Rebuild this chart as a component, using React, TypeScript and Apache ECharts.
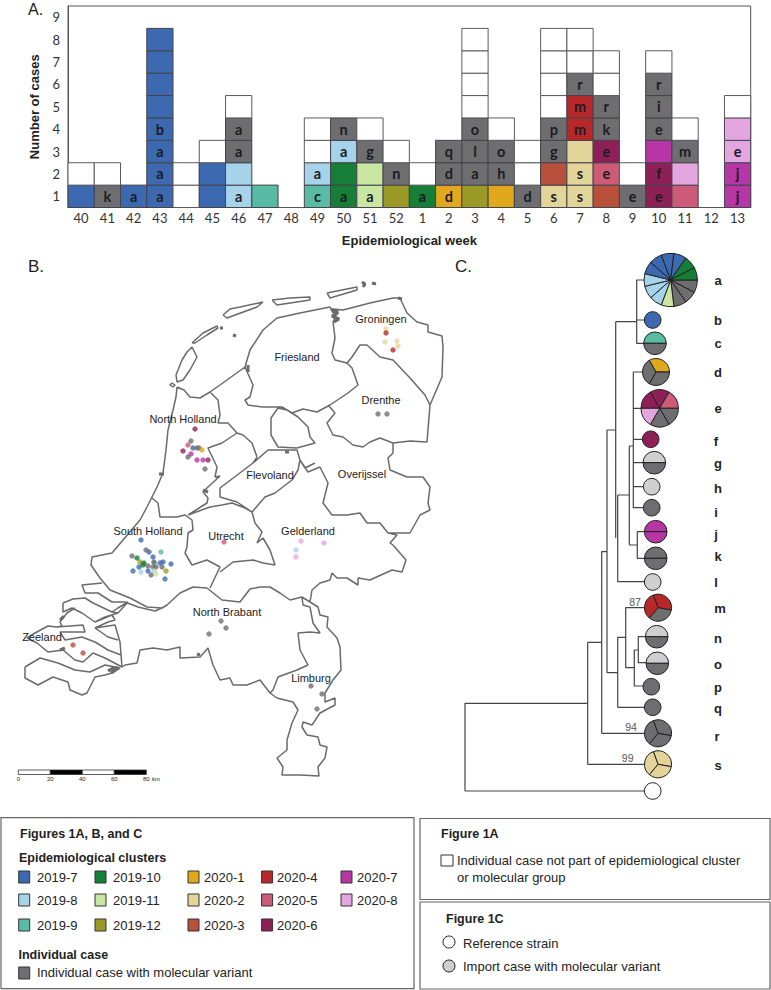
import React, { useEffect, useRef } from "react";
import * as echarts from "echarts";

// ---------- colours ----------
const clusterColors: Record<string, string> = {
  "2019-7": "#3C69B0", "2019-8": "#A6D2EA", "2019-9": "#5ABBA5", "2019-10": "#157F37",
  "2019-11": "#C9E7A3", "2019-12": "#9C9A26", "2020-1": "#E2A81C", "2020-2": "#E3D59A",
  "2020-3": "#B9503C", "2020-4": "#B8282B", "2020-5": "#CC5B77", "2020-6": "#8E2058",
  "2020-7": "#B636A6", "2020-8": "#E4A6E0",
  G: "#6E6E70", L: "#CFCFCF", W: "#FFFFFF",
};

// ---------- panel A ----------
const weeks = ["40","41","42","43","44","45","46","47","48","49","50","51","52","1","2","3","4","5","6","7","8","9","10","11","12","13"];
const caseLevels = ["1","2","3","4","5","6","7","8","9"];
const W: [string, string] = ["W", ""];
const weekCases: [string, string][][] = [
  [["2019-7",""],W],
  [["G","k"],W],
  [["2019-7","a"]],
  [["2019-7","a"],["2019-7","a"],["2019-7","a"],["2019-7","b"],["2019-7",""],["2019-7",""],["2019-7",""],["2019-7",""]],
  [W,W],
  [["2019-7",""],["2019-7",""],W],
  [["2019-8","a"],["2019-8",""],["G","a"],["G","a"],W],
  [["2019-9",""]],
  [],
  [["2019-9","c"],["2019-8","a"],W,W],
  [["2019-10","a"],["2019-10",""],["2019-8","a"],["G","n"]],
  [["2019-11","a"],["2019-11",""],["G","g"],W],
  [["2019-12",""],["G","n"],W],
  [["2019-10","a"],W],
  [["2020-1","d"],["G","d"],["G","q"]],
  [["2019-12",""],["G","a"],["G","l"],["G","o"],W,W,W,W],
  [["2020-1",""],["G","h"],["G","o"],W],
  [["G","d"],W,W],
  [["2020-2","s"],["2020-3",""],["G","g"],["G","p"],W,W,W,W],
  [["2020-2","s"],["2020-2","s"],["2020-2",""],["2020-4","m"],["2020-4","m"],["G","r"],W,W],
  [["2020-3",""],["2020-5","e"],["2020-6","e"],["G","k"],["G","r"],W,W],
  [["G","e"],W],
  [["2020-6","e"],["2020-6","f"],["2020-7",""],["G","e"],["G","i"],["G","r"],W],
  [["2020-5",""],["2020-8",""],["G","m"],W],
  [],
  [["2020-7","j"],["2020-7","j"],["2020-8","e"],["2020-8",""],W],
];

// ---------- panel B: outlines ----------
type P = number[][];
const islands: P[] = [
  [[192,347],[197,357],[190,370],[183,380],[177,382],[176,375],[182,360],[187,352],[192,347]],
  [[172,383],[175,385],[173,387],[170,385],[172,383]],
  [[192,343],[203,333],[217,326],[218,328],[207,335],[195,343],[192,343]],
  [[223,315],[230,309],[240,307],[263,302],[257,307],[227,318],[223,315]],
  [[272,300],[290,298],[310,297],[310,300],[277,305],[272,300]],
  [[327,293],[357,287],[357,290],[330,298],[327,293]],
];
const friesland: P = [[210,392],[220,385],[245,367],[250,350],[263,330],[277,318],[300,313],[330,307],[333,313],[338,310],[333,322],[335,338],[332,353],[335,360],[347,363],[352,368],[358,385],[348,393],[330,405],[317,412],[303,409],[292,413],[282,407],[262,407],[248,405],[245,400],[250,397],[253,385],[245,367]];
const groningen: P = [[333,309],[343,310],[370,303],[393,298],[400,298],[407,313],[417,322],[428,325],[428,332],[442,336],[443,347],[442,377],[430,405]];
const groningenSouth: P = [[347,363],[352,357],[360,345],[367,345],[380,357],[393,360],[410,378],[425,395],[430,405]];
const drenthe: P = [[430,405],[427,442],[410,441],[393,443],[380,438],[370,442],[363,447],[353,445],[343,437],[333,435],[327,423],[335,413],[328,405]];
const overijssel: P = [[393,443],[393,453],[388,458],[390,470],[407,477],[423,477],[430,487],[428,503],[430,510],[420,515],[410,533],[388,533],[380,523],[367,523],[360,513],[347,515],[332,515],[323,503],[328,483],[320,467],[308,472],[300,460]];
const polder: P = [[278,408],[271,418],[271,435],[278,447],[297,448],[315,443],[310,437],[308,427],[298,417],[287,410],[278,408]];
const flevoland: P = [[253,463],[268,450],[278,450],[297,450],[300,460],[298,470],[292,480],[275,493],[265,497],[252,512],[237,502],[220,497],[220,488],[253,463]];
const flevoShore: P = [[257,457],[253,463]];
const northHollandEast: P = [[210,392],[218,400],[220,415],[218,423],[228,423],[237,433],[243,435],[252,443],[257,457]];
const markermeer: P = [[237,433],[222,443],[208,448],[217,467],[215,477],[220,476],[208,487],[203,492],[208,498],[207,503],[188,515]];
const westCoast: P = [[177,387],[176,397],[173,410],[168,430],[166,450],[163,473],[157,487],[147,507],[140,520],[112,553],[92,557],[91,565],[100,578],[110,590],[130,598],[147,607],[162,608],[167,605],[180,593],[193,587],[207,588],[222,600],[240,602],[250,589],[260,587],[270,587],[280,593],[290,600],[302,597]];
const helder: P = [[177,387],[184,390],[190,397],[200,398],[210,392]];
const hollandBorder: P = [[152,498],[158,503],[160,517],[177,517],[185,515],[192,520],[193,530],[188,533],[187,547],[185,553],[192,565],[207,560],[220,567],[210,588]];
const utrecht: P = [[188,515],[210,507],[222,505],[232,503],[245,508],[252,512],[255,523],[262,532],[257,543],[263,538],[270,550],[275,565],[263,563],[253,560],[233,562],[220,572]];
const gelderlandEast: P = [[302,597],[310,602],[312,590],[320,583],[330,580],[332,573],[337,578],[347,578],[358,585],[358,578],[370,580],[392,570],[402,572],[406,560],[393,545],[390,543],[397,535],[388,533]];
const gelderlandShore: P = [[300,460],[305,468],[315,463]];
const limburgWest: P = [[302,597],[303,605],[310,607],[313,623],[320,633],[310,632],[298,633],[300,650],[308,665],[297,670],[278,677],[273,690],[270,693]];
const limburgEast: P = [[310,602],[318,607],[320,615],[328,617],[327,627],[337,638],[340,647],[341,670],[333,680],[325,693],[325,702],[335,698],[335,705],[320,713],[312,725],[303,722],[302,727],[307,735],[318,737],[320,745],[327,747],[325,758],[318,767],[319,776],[300,775],[282,775],[283,767],[277,758],[287,750],[287,740],[292,723],[298,710],[293,702],[277,698],[270,693]];
const brabantSouth: P = [[270,693],[260,680],[247,685],[233,685],[230,678],[220,680],[213,665],[208,648],[200,657],[180,658],[180,647],[167,650],[153,648],[140,650],[137,663],[125,665],[122,667]];
const voorne: P = [[102,583],[82,585],[85,593],[98,593],[112,602],[125,602],[138,607],[155,611],[162,608]];
const goeree: P = [[63,603],[73,599],[85,598],[93,603],[112,612],[118,613],[105,617],[95,622],[82,613],[72,608],[63,612],[63,603]];
const schouwen: P = [[75,608],[67,613],[60,622],[62,626],[57,627],[48,626],[35,633],[27,638],[37,643],[48,652],[63,650],[75,660],[83,662],[93,653],[105,658],[122,667],[120,642],[115,625],[95,628],[108,637],[118,640]];
const noordBeveland: P = [[57,627],[83,625],[85,632],[60,632],[65,640],[82,637],[95,642],[108,650],[121,655]];
const tholen: P = [[95,622],[112,615],[115,620],[108,622],[95,628]];
const rhine: P = [[112,612],[118,608],[128,602],[118,613]];
const zeeuwsVlaanderen: P = [[25,667],[40,658],[58,663],[75,670],[90,672],[105,665],[120,668],[112,673],[105,675],[95,677],[87,693],[82,695],[70,690],[68,682],[53,677],[38,685],[25,678],[25,667]];
const mapOutlines: P[] = [...islands, friesland, groningen, groningenSouth, drenthe, overijssel, polder, flevoland, flevoShore, northHollandEast, markermeer, westCoast, helder, hollandBorder, utrecht, gelderlandEast, gelderlandShore, limburgWest, limburgEast, brabantSouth, voorne, goeree, schouwen, noordBeveland, tholen, rhine, zeeuwsVlaanderen];
// small dark tangles of coastline at this scale
const coastKnots: P[] = [
  [[331,309],[338,313],[332,316],[339,319],[334,322]],
  [[398,298],[402,299]],
  [[362,282],[365,284],[363,287]],
  [[372,283],[376,284]],
  [[220,328],[223,328]],
  [[233,335],[236,336]],
  [[248,365],[248,372]],
  [[159,474],[164,474]],
  [[203,490],[208,492]],
  [[285,452],[289,452]],
  [[60,620],[64,616]],
  [[60,650],[65,648]],
  [[108,671],[113,668],[118,668],[111,673]],
  [[197,654],[200,655]],
];

const provinceNames: [string, number, number][] = [
  ["Groningen",381,319],["Friesland",297,357],["Drenthe",381,400],["Flevoland",270,475],["Overijssel",362,474],
  ["North Holland",183,419],["South Holland",148,531],["Utrecht",226,536],["Gelderland",308,531],
  ["North Brabant",227,612],["Zeeland",42,637],["Limburg",311,678],
];
const caseDots: [number, number, string][] = [
  [386,329,"2020-2"],[386,333,"2020-4"],[385,342,"2020-2"],[397,341,"2020-2"],[398,346,"2020-2"],[393,350,"2020-4"],
  [378,414,"G"],[387,414,"G"],
  [195,429,"2020-6"],[191,441,"G"],[188,445,"2020-5"],[193,448,"2019-7"],[197,448,"G"],[199,448,"G"],[202,450,"2020-1"],[183,451,"2020-6"],[191,454,"2020-7"],[188,457,"G"],[197,460,"2020-7"],[203,460,"2020-7"],[208,460,"2020-6"],[205,469,"G"],
  [224,542,"2020-5"],
  [301,541,"2020-8"],[324,543,"2020-8"],[296,550,"2019-8"],[296,557,"2020-8"],
  [141,540,"2019-7"],[146,550,"G"],[149,552,"2019-7"],[161,552,"2019-9"],[132,556,"G"],[137,558,"2019-10"],[153,557,"2019-7"],[139,567,"2019-7"],[140,562,"2019-12"],[144,563,"2019-10"],[143,565,"2019-10"],[163,562,"2019-7"],[160,563,"2019-7"],[171,564,"2019-7"],[154,563,"2019-9"],[154,562,"G"],[148,566,"G"],[153,567,"G"],[156,567,"G"],[162,567,"G"],[133,571,"2019-7"],[141,572,"2019-8"],[148,571,"2019-7"],[154,571,"2019-8"],[166,571,"2019-12"],[156,574,"2019-11"],[151,575,"G"],[165,579,"2019-7"],
  [73,645,"2020-3"],[83,653,"2020-3"],
  [221,621,"G"],[226,628,"G"],[209,634,"G"],
  [311,686,"G"],[322,694,"G"],[317,709,"G"],
];
const scaleTicks = ["0","20","40","60","80"];

// ---------- panel C ----------
const treeBranches: P[] = [
  [[644,280],[636.7,280],[636.7,343.3],[644,343.3]],
  [[636.7,320],[644,320]],
  [[615.7,321.7],[636.7,321.7]],
  [[615.7,321.7],[615.7,538]],
  [[606.7,430],[615.7,430]],
  [[607,430],[607,672.7]],
  [[607,551.7],[601.7,551.7],[601.7,733.3],[644,733.3]],
  [[587.7,642.3],[601.7,642.3]],
  [[644.7,764.3],[587.7,764.3],[587.7,642.3]],
  [[587.7,703.3],[465,703.3],[465,791],[644.7,791]],
  [[607,672.7],[617.7,672.7]],
  [[644.7,707.3],[617.7,707.3],[617.7,637.3],[625.7,637.3]],
  [[645,607.7],[625.7,607.7],[625.7,667.7],[634.3,667.7]],
  [[634.3,650],[634.3,686],[643,686]],
  [[634.3,650],[638.3,650]],
  [[645.7,636.7],[638.3,636.7],[638.3,662.7],[646.7,662.7]],
  [[617.7,495],[629.3,495]],
  [[617.7,495],[617.7,581.7],[644.7,581.7]],
  [[633.3,446],[629.3,446],[629.3,545],[637.3,545]],
  [[642.7,372],[633.3,372],[633.3,507.7],[643.3,507.7]],
  [[633.3,408.3],[641,408.3]],
  [[633.3,439.3],[642.7,439.3]],
  [[633.3,462.7],[643.3,462.7]],
  [[633.3,486.7],[643.3,486.7]],
  [[644.7,531.7],[637.3,531.7],[637.3,558.3],[644.7,558.3]],
];
const supportValues: [string, number, number][] = [["87",635,602],["94",631,726.7],["99",627.7,758]];
const pieNames = ["a","b","c","d","e","f","g","h","i","j","k","l","m","n","o","p","q","r","s",""];
const pieCenters: number[][] = [[670.7,280],[652.7,320],[655,343.3],[656,372],[659.7,408.3],[650.7,439.3],[654.3,462.7],[651.7,486.7],[651.7,507.7],[655.7,531.7],[655.7,558.3],[652.7,582],[658,607.7],[656.7,636.7],[657.3,663.3],[651.3,686.7],[652.7,707.3],[658,733.3],[658,764.3],[652.7,791]];
const pieRadii = [26.7,8.3,11.3,13.5,18.7,8.3,11.3,8.3,8.3,11.3,11.3,8.3,13.5,11.3,11.3,8.3,8.3,13.5,13.5,8.3];
const pieStarts = [0,0,180,120,180,0,180,0,0,180,180,0,110,180,180,0,0,110,110,0];
const pieSlices: string[][] = [
  ["G","G","G","2019-11","2019-8","2019-8","2019-8","2019-7","2019-7","2019-7","2019-7","2019-10","2019-10"],
  ["2019-7"],["2019-9","G"],["2020-1","G","G"],["2020-6","2020-6","2020-5","G","G","2020-8"],["2020-6"],
  ["L","G"],["L"],["G"],["2020-7","2020-7"],["G","G"],["L"],["2020-4","G","2020-4"],["L","G"],["L","G"],["G"],["G"],
  ["G","G","G"],["2020-2","2020-2","2020-2"],["W"],
];
const pieLetterPos: number[][] = [[718,280],[718,320],[718,343],[718,372],[718,408],[716,441],[718,463],[718,488],[716,512],[716,534],[718,556],[716,582],[720,608],[718,638],[718,664],[718,687],[718,708],[717,736],[718,765]];

// ---------- legend ----------
const legendColumns = [
  ["2019-7","2019-8","2019-9"],
  ["2019-10","2019-11","2019-12"],
  ["2020-1","2020-2","2020-3"],
  ["2020-4","2020-5","2020-6"],
  ["2020-7","2020-8"],
];

const SANS = '"Liberation Sans", Arial, sans-serif';

const withGaps = (paths: P[]) => paths.flatMap((p) => [...p, [NaN, NaN]]);

function buildCells() {
  const cells: { week: number; level: number; key: string; label: string }[] = [];
  weekCases.forEach((col, week) => col.forEach(([key, label], level) => cells.push({ week, level, key, label })));
  return cells;
}

function buildOption() {
  const cells = buildCells();
  const txt = (text: string, x: number, y: number, o: any = {}) => ({
    type: "text", x, y, silent: true, z: o.z ?? 10,
    style: { text, fill: o.fill ?? "#222", font: `${o.bold ? "bold " : ""}${o.size ?? 13}px ${o.family ?? SANS}`, textAlign: o.align ?? "left", textVerticalAlign: "middle" },
  });
  const box = (x: number, y: number, w: number, h: number) => ({
    type: "rect", shape: { x, y, width: w, height: h }, silent: true,
    style: { fill: "none", stroke: "#666", lineWidth: 1.2 },
  });
  const swatch = (x: number, y: number, color: string, w = 11, h = 12) => ({
    type: "rect", shape: { x, y, width: w, height: h }, silent: true,
    style: { fill: color, stroke: "#333", lineWidth: 1 },
  });
  const colX = [18.7, 95, 188, 261.6, 341];
  const colTextX = [37, 113, 204, 277, 357];
  const rowY = [877, 900, 925];
  const legendItems: any[] = [];
  legendColumns.forEach((col, c) => col.forEach((name, r) => {
    legendItems.push(swatch(colX[c], rowY[r] - 6, clusterColors[name]));
    legendItems.push(txt(name, colTextX[c], rowY[r]));
  }));
  const sbY = 770, sbX = 18.3, seg = 32;
  const scaleBar: any[] = [0, 1, 2, 3].map((i) => ({
    type: "rect", shape: { x: sbX + i * seg, y: sbY, width: seg, height: 4.5 }, silent: true,
    style: { fill: i % 2 ? "#000" : "#fff", stroke: "#333", lineWidth: 0.8 },
  }));
  scaleTicks.forEach((t, i) => scaleBar.push(txt(t, sbX + i * seg, 779, { size: 6, align: "center" })));
  scaleBar.push(txt("km", 156, 779, { size: 6, align: "center" }));

  const graphic: any[] = [
    txt("A.", 28, 9, { size: 16 }), txt("B.", 28, 266, { size: 17 }), txt("C.", 455, 266, { size: 17 }),
    ...scaleBar,
    ...provinceNames.map((p) => txt(p[0], p[1], p[2], { size: 11, align: "center" })),
    ...supportValues.map((p) => txt(p[0], p[1], p[2], { size: 10.5, align: "center", fill: "#555" })),
    ...pieLetterPos.map((p, i) => txt(pieNames[i], p[0], p[1], { bold: true, size: 13, align: "center" })),
    box(1, 817.7, 413, 171),
    box(420, 818.5, 350, 81),
    box(420, 902, 350, 87),
    txt("Figures 1A, B, and C", 20, 834, { bold: true, size: 12.5 }),
    txt("Epidemiological clusters", 19, 858, { bold: true, size: 12.5 }),
    ...legendItems,
    txt("Individual case", 18.5, 955, { bold: true, size: 12.5 }),
    swatch(18.7, 967, clusterColors.G),
    txt("Individual case with molecular variant", 37, 972),
    txt("Figure 1A", 441, 834, { bold: true, size: 12.5 }),
    swatch(441, 855, "#fff", 12, 11),
    txt("Individual case not part of epidemiological cluster", 457, 860),
    txt("or molecular group", 457, 877),
    txt("Figure 1C", 446, 919, { bold: true, size: 12.5 }),
    { type: "circle", shape: { cx: 449, cy: 942, r: 6 }, silent: true, style: { fill: "#fff", stroke: "#222", lineWidth: 1 } },
    txt("Reference strain", 463, 943),
    { type: "circle", shape: { cx: 449, cy: 966, r: 6 }, silent: true, style: { fill: clusterColors.L, stroke: "#222", lineWidth: 1 } },
    txt("Import case with molecular variant", 463, 966.5),
  ];

  const pies = pieCenters.map((c, i) => ({
    type: "pie", center: c, radius: [0, pieRadii[i]], startAngle: pieStarts[i], clockwise: true,
    silent: true, label: { show: false }, labelLine: { show: false }, z: 5,
    itemStyle: { borderColor: "#222", borderWidth: 1 },
    data: pieSlices[i].map((k, j) => ({ name: `${pieNames[i]}${j}`, value: 1, itemStyle: { color: clusterColors[k] } })),
  }));

  return {
    animation: false,
    backgroundColor: "#fff",
    graphic,
    grid: [
      { left: 68, top: 6, width: 682.7, height: 201.5, show: true, borderColor: "#555", borderWidth: 1 },
      { left: 0, top: 0, width: 771, height: 990, show: false },
    ],
    xAxis: [
      { type: "category", gridIndex: 0, data: weeks, boundaryGap: true,
        axisLine: { lineStyle: { color: "#555" } }, axisTick: { show: false },
        axisLabel: { interval: 0, color: "#333", fontFamily: "Lato", fontSize: 13, margin: 4 },
        name: "Epidemiological week", nameLocation: "middle", nameGap: 26,
        nameTextStyle: { fontFamily: SANS, fontWeight: "bold", fontSize: 13, color: "#222" } },
      { type: "value", gridIndex: 1, min: 0, max: 771, show: false },
    ],
    yAxis: [
      { type: "category", gridIndex: 0, data: caseLevels, boundaryGap: true,
        axisLine: { lineStyle: { color: "#555" } }, axisTick: { show: false }, splitLine: { show: false },
        axisLabel: { interval: 0, color: "#333", fontFamily: "Lato", fontSize: 13, margin: 8 },
        name: "Number of cases", nameLocation: "middle", nameGap: 27, nameRotate: 90,
        nameTextStyle: { fontFamily: SANS, fontWeight: "bold", fontSize: 13, color: "#222" } },
      { type: "value", gridIndex: 1, min: 0, max: 990, inverse: true, show: false },
    ],
    series: [
      {
        type: "custom", xAxisIndex: 0, yAxisIndex: 0, silent: true,
        encode: { x: 0, y: 1 },
        data: cells.map((c) => [c.week, c.level]),
        renderItem: (params: any, api: any) => {
          const cell = cells[params.dataIndex];
          const pt = api.coord([api.value(0), api.value(1)]);
          const sz = api.size([1, 1]);
          const children: any[] = [{
            type: "rect",
            shape: { x: pt[0] - sz[0] / 2, y: pt[1] - sz[1] / 2, width: sz[0], height: sz[1] },
            style: { fill: clusterColors[cell.key], stroke: cell.key === "W" ? "#5a5a5a" : "#44444c", lineWidth: 1 },
          }];
          if (cell.label) children.push({
            type: "text", x: pt[0], y: pt[1],
            style: { text: cell.label, fill: "#1c1c22", font: "bold 14.5px Lato", textAlign: "center", textVerticalAlign: "middle" },
          });
          return { type: "group", children };
        },
      },
      {
        type: "line", name: "map", xAxisIndex: 1, yAxisIndex: 1, silent: true, showSymbol: false, clip: false,
        lineStyle: { color: "#6a6a6a", width: 1.5 }, data: withGaps(mapOutlines), z: 2,
      },
      {
        type: "line", name: "knots", xAxisIndex: 1, yAxisIndex: 1, silent: true, showSymbol: false, clip: false,
        lineStyle: { color: "#6a6a6a", width: 3 }, data: withGaps(coastKnots), z: 2,
      },
      {
        type: "scatter", name: "cases", xAxisIndex: 1, yAxisIndex: 1, silent: true, symbolSize: 5.4, clip: false, z: 3,
        data: caseDots.map((d) => ({ value: [d[0], d[1]], itemStyle: { color: clusterColors[d[2]] } })),
      },
      {
        type: "line", name: "tree", xAxisIndex: 1, yAxisIndex: 1, silent: true, showSymbol: false, clip: false,
        lineStyle: { color: "#444", width: 1.2 }, data: withGaps(treeBranches), z: 4,
      },
      ...pies,
    ],
  };
}

export default function App() {
  const ref = useRef<HTMLDivElement>(null);
  useEffect(() => {
    document.body.style.margin = "0";
    const chart = echarts.init(ref.current!, undefined, { renderer: "svg" });
    chart.setOption(buildOption() as any);
    return () => chart.dispose();
  }, []);
  return <div ref={ref} style={{ width: 771, height: 990, position: "absolute", left: 0, top: 0 }} />;
}
